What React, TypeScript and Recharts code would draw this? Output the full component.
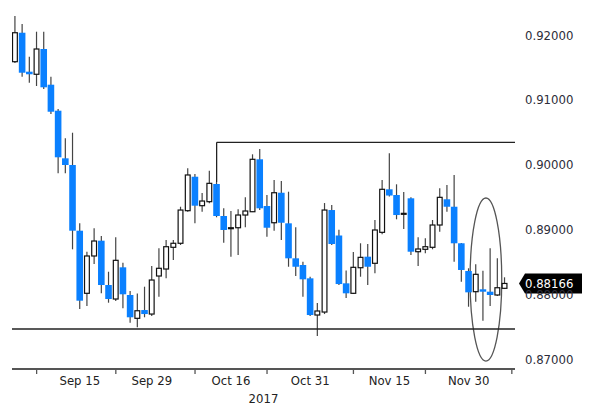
import React from 'react';
import { ComposedChart, Bar, XAxis, YAxis, ReferenceLine, ReferenceArea } from 'recharts';

const opens = [
  0.91588, 0.92035, 0.91434, 0.91394, 0.91784, 0.91233, 0.90832, 0.90097, 0.89994, 0.8898,
  0.88014, 0.8859, 0.88826, 0.88142, 0.87926, 0.88415, 0.87988, 0.87628, 0.87756, 0.87694,
  0.88281, 0.88389, 0.88724, 0.88786, 0.89289, 0.89813, 0.89366, 0.89428, 0.89701, 0.89207,
  0.89011, 0.89026, 0.89222, 0.89273, 0.90082, 0.89361, 0.89103, 0.89566, 0.89094, 0.88554,
  0.88451, 0.88245, 0.87679, 0.87725, 0.89299, 0.88906, 0.88168, 0.88014, 0.88409, 0.88579,
  0.88477, 0.88955, 0.89619, 0.89531, 0.89233, 0.8948, 0.88656, 0.88693, 0.88724, 0.89068,
  0.89465, 0.8935, 0.88786, 0.88358, 0.88039, 0.88076, 0.88039, 0.87988, 0.88091,
];
const highs = [
  0.92293, 0.9217, 0.91665, 0.92051, 0.92051, 0.91356, 0.90858, 0.90406, 0.90492, 0.89094,
  0.88656, 0.89017, 0.88898, 0.88347, 0.88878, 0.88486, 0.88049, 0.88011, 0.88116, 0.88435,
  0.88708, 0.88836, 0.88836, 0.8935, 0.89943, 0.89855, 0.89562, 0.89906, 0.89731, 0.89326,
  0.89284, 0.8931, 0.89495, 0.90159, 0.90241, 0.89531, 0.89762, 0.89747, 0.89582, 0.89032,
  0.88502, 0.8827, 0.87864, 0.89407, 0.89377, 0.88995, 0.88366, 0.88651, 0.88786, 0.88775,
  0.89145, 0.89762, 0.90174, 0.89696, 0.89577, 0.89495, 0.88878, 0.88863, 0.89145, 0.89634,
  0.89685, 0.8984, 0.8879, 0.884, 0.88461, 0.88363, 0.88708, 0.88554, 0.88261,
];
const lows = [
  0.91568, 0.91356, 0.91264, 0.91213, 0.91167, 0.90781, 0.89866, 0.89866, 0.88693, 0.87772,
  0.87818, 0.88466, 0.88014, 0.87869, 0.87895, 0.87782, 0.8756, 0.87489, 0.87644, 0.87664,
  0.87961, 0.88245, 0.88528, 0.88759, 0.89273, 0.89094, 0.89273, 0.89403, 0.89187, 0.88795,
  0.88579, 0.88605, 0.89032, 0.89268, 0.89299, 0.88887, 0.8898, 0.88836, 0.88424, 0.88281,
  0.87961, 0.87664, 0.87355, 0.87694, 0.88759, 0.88142, 0.87941, 0.88003, 0.8827, 0.88142,
  0.88323, 0.88924, 0.89508, 0.89156, 0.89006, 0.88605, 0.88435, 0.88631, 0.88693, 0.88965,
  0.89273, 0.88502, 0.88193, 0.87807, 0.87884, 0.87591, 0.87818, 0.87972, 0.8808,
];
const closes = [
  0.92035, 0.91418, 0.91394, 0.91784, 0.91193, 0.90816, 0.90113, 0.89994, 0.8898, 0.879,
  0.8859, 0.88821, 0.88142, 0.87926, 0.88523, 0.87999, 0.87644, 0.87745, 0.87694, 0.88219,
  0.884, 0.88733, 0.88786, 0.89299, 0.8984, 0.89366, 0.89438, 0.89711, 0.89207, 0.88991,
  0.89026, 0.89222, 0.89284, 0.90082, 0.89326, 0.89026, 0.89566, 0.89103, 0.88554, 0.88424,
  0.8823, 0.87679, 0.87741, 0.89299, 0.88775, 0.88157, 0.88014, 0.88415, 0.88569, 0.88424,
  0.88991, 0.89619, 0.89523, 0.89222, 0.89248, 0.88656, 0.88698, 0.88733, 0.89068, 0.89495,
  0.8935, 0.88786, 0.88374, 0.88029, 0.88307, 0.88039, 0.87988, 0.881, 0.88166,
];

const xLabelIdx = [9, 19, 30, 41, 52, 63];
const xLabelText = ['Sep 15', 'Sep 29', 'Oct 16', 'Oct 31', 'Nov 15', 'Nov 30'];
const xTickMarkIdx = [3, 14, 25, 35, 47, 57, 69];
const yTicks = [0.87, 0.88, 0.89, 0.9, 0.91, 0.92];
const yearLabel = '2017';
const supportLevel = 0.87463;
const resistanceLevel = 0.90344;
const resistanceStartIdx = 28;
const resistanceStartPrice = 0.89731;
const lastPrice = 0.88166;
const circleX = [63.2, 67.6];
const circleY = [0.86969, 0.89485];

const X_DOMAIN: [number, number] = [-0.42, 69.44];
const Y_DOMAIN: [number, number] = [0.86846, 0.92463];

const FONT = '"Liberation Sans Narrow", "DejaVu Sans Condensed", "Liberation Sans", sans-serif';
const BLUE = '#0a80ff';

const data = opens.map((o, i) => ({
  i,
  open: o,
  high: highs[i],
  low: lows[i],
  close: closes[i],
  range: [lows[i], highs[i]],
}));

const Candle = (props: any) => {
  const { x, y, width, height, payload } = props;
  if (!payload) return null;
  const { open, close, high, low } = payload;
  const cx = x + width / 2;
  const ratio = height / (high - low);
  const yOf = (v: number) => y + (high - v) * ratio;
  const bull = close >= open;
  const top = yOf(Math.max(open, close));
  const bot = yOf(Math.min(open, close));
  return (
    <g>
      <line x1={cx} x2={cx} y1={y} y2={y + height} stroke="#444" strokeWidth={1.2} />
      {bull ? (
        <rect x={cx - 2.4} y={top} width={4.8} height={Math.max(bot - top, 0.8)} fill="#fff" stroke="#111" strokeWidth={1.2} />
      ) : (
        <rect x={cx - 3.3} y={top} width={6.6} height={Math.max(bot - top, 1.6)} fill={BLUE} />
      )}
    </g>
  );
};

const XTick = (props: any) => {
  const { x, y, payload } = props;
  const v = payload.value;
  const li = xLabelIdx.indexOf(v);
  if (li >= 0) {
    return (
      <text x={x} y={y + 16} textAnchor="middle" fontFamily={FONT} fontSize={13} fill="#222">
        {xLabelText[li]}
      </text>
    );
  }
  return <line x1={x} x2={x} y1={y} y2={y + 5} stroke="#555" strokeWidth={1.3} />;
};

const YTick = (props: any) => {
  const { x, y, payload } = props;
  return (
    <text x={x + 10} y={y + 4.5} textAnchor="start" fontFamily={FONT} fontSize={13} fill="#2d2d3a">
      {payload.value.toFixed(5)}
    </text>
  );
};

const PriceTag = (props: any) => {
  const vb = props.viewBox;
  if (!vb) return null;
  const x0 = vb.x + vb.width + 4;
  const yc = vb.y;
  return (
    <g>
      <polygon
        points={`${x0},${yc} ${x0 + 6},${yc - 10} ${x0 + 63},${yc - 10} ${x0 + 63},${yc + 10} ${x0 + 6},${yc + 10}`}
        fill="#000"
      />
      <text x={x0 + 6} y={yc + 4.5} fontFamily={FONT} fontSize={13} fill="#fff">
        {lastPrice.toFixed(5)}
      </text>
    </g>
  );
};

const YearLabel = (props: any) => {
  const vb = props.viewBox;
  if (!vb) return null;
  return (
    <text x={vb.x + vb.width / 2} y={vb.y + 33.5} textAnchor="middle" fontFamily={FONT} fontSize={13} fill="#222">
      {yearLabel}
    </text>
  );
};

const EllipseShape = (p: any) => (
  <ellipse
    cx={p.x + p.width / 2}
    cy={p.y + p.height / 2}
    rx={Math.abs(p.width) / 2}
    ry={Math.abs(p.height) / 2}
    fill="none"
    stroke="#555"
    strokeWidth={1.3}
  />
);

export default function App() {
  const xTicks = [...xTickMarkIdx, ...xLabelIdx].sort((a, b) => a - b);
  return (
    <div style={{ position: 'absolute', left: 0, top: 0, background: '#fff' }}>
      <ComposedChart
        width={600}
        height={418}
        data={data}
        margin={{ top: 5, right: 0, left: 12, bottom: 0 }}
      >
        <XAxis
          dataKey="i"
          type="number"
          domain={X_DOMAIN}
          allowDataOverflow
          ticks={xTicks}
          interval={0}
          tickLine={false}
          tickSize={0}
          tickMargin={0}
          axisLine={{ stroke: '#555', strokeWidth: 2 }}
          tick={<XTick />}
          height={49}
          label={<YearLabel />}
        />
        <YAxis
          orientation="right"
          type="number"
          domain={Y_DOMAIN}
          allowDataOverflow
          ticks={yTicks}
          interval={0}
          axisLine={false}
          tickLine={false}
          tickSize={0}
          tickMargin={0}
          width={85}
          tick={<YTick />}
        />
        <ReferenceLine y={supportLevel} stroke="#222" strokeWidth={1.3} />
        <ReferenceLine
          segment={[
            { x: resistanceStartIdx, y: resistanceLevel },
            { x: X_DOMAIN[1], y: resistanceLevel },
          ]}
          stroke="#222"
          strokeWidth={1.3}
        />
        <ReferenceLine
          segment={[
            { x: resistanceStartIdx, y: resistanceLevel },
            { x: resistanceStartIdx, y: resistanceStartPrice },
          ]}
          stroke="#222"
          strokeWidth={1.3}
        />
        <Bar dataKey="range" barSize={7} isAnimationActive={false} shape={<Candle />} />
        <ReferenceArea
          x1={circleX[0]}
          x2={circleX[1]}
          y1={circleY[0]}
          y2={circleY[1]}
          shape={<EllipseShape />}
        />
        <ReferenceLine y={lastPrice} stroke="none" label={<PriceTag />} />
      </ComposedChart>
    </div>
  );
}
